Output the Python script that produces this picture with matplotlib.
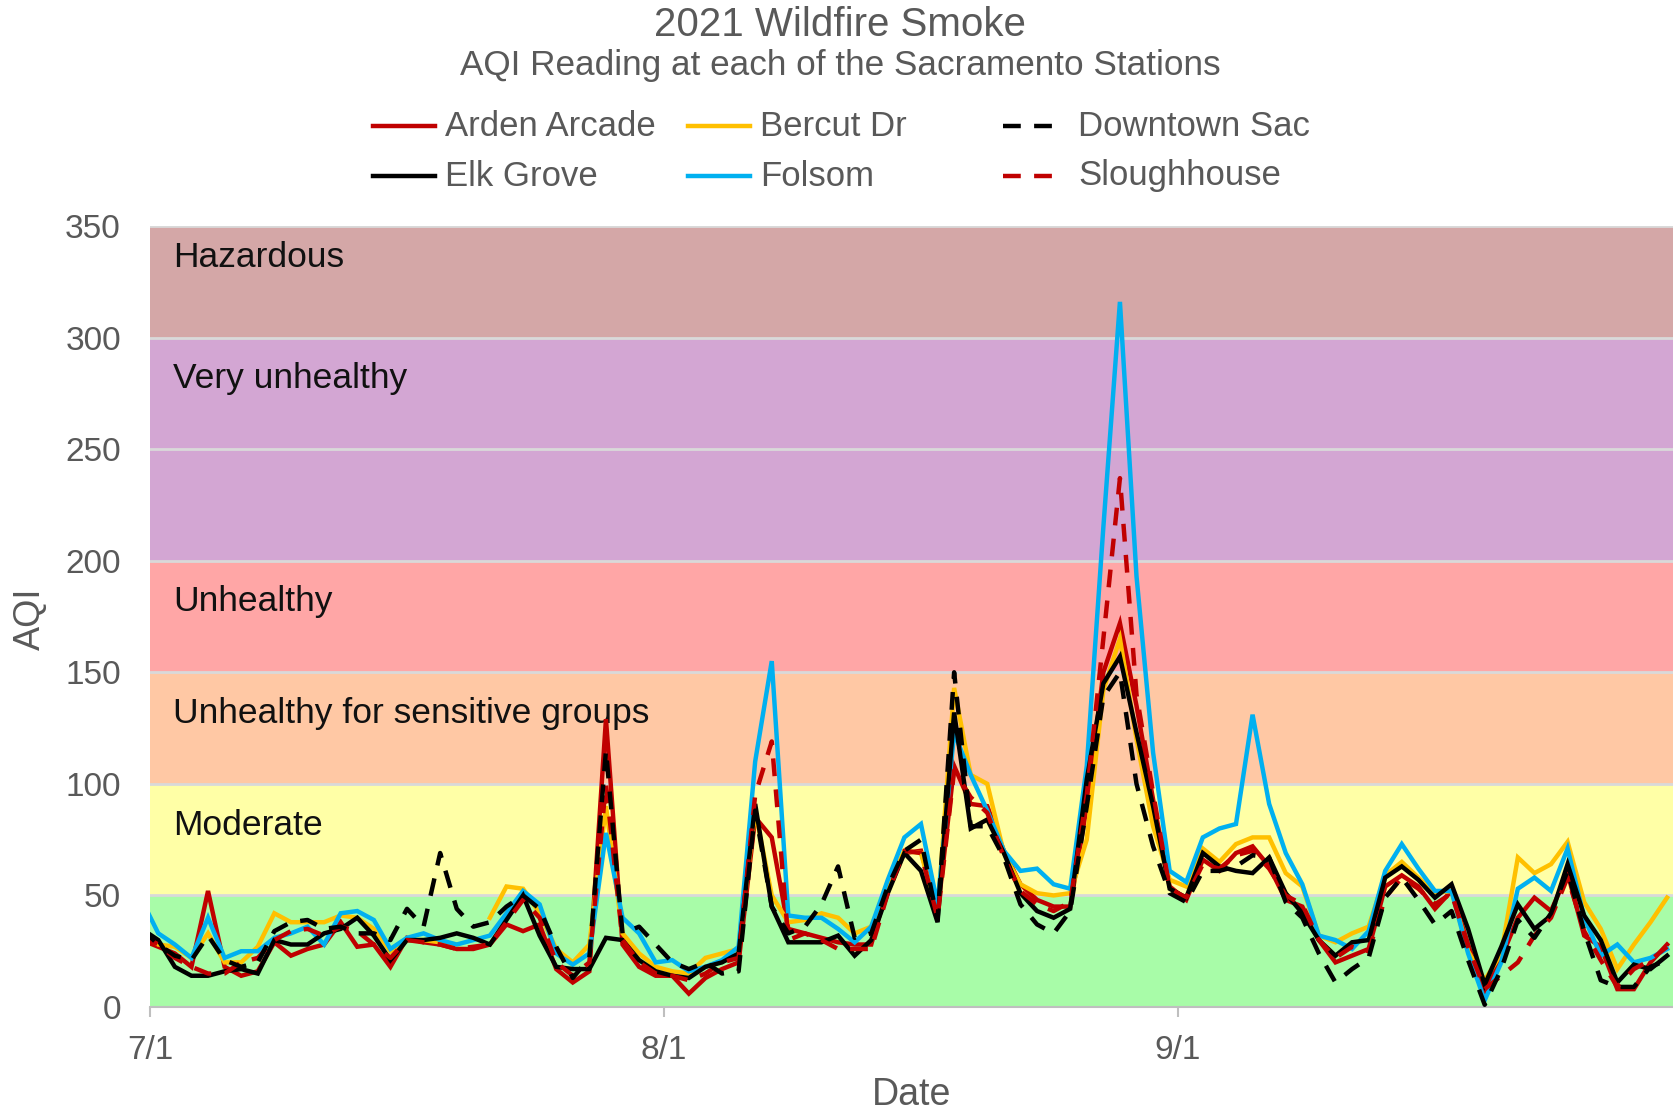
import numpy as np
import matplotlib
matplotlib.use("Agg")
import matplotlib.pyplot as plt
from matplotlib.lines import Line2D

plt.rcParams['font.family'] = ['Liberation Sans', 'DejaVu Sans']

# daily readings 6/30 .. 9/30 (first value is 6/30, mostly clipped at the left edge)
arden = [30, 27, 24, 18, 52, 18, 14, 16, 29, 23, 26, 28, 38, 27, 28, 18, 31, 29, 28, 26,
         26, 28, 37, 34, 37, 17, 11, 16, 129, 28, 18, 14, 14, 6, 13, 17, 20, 85, 76, 35,
         33, 31, 29, 28, 28, 54, 69, 70, 42, 108, 91, 90, 70, 55, 48, 45, 45, 90, 150, 172,
         135, 93, 54, 48, 66, 61, 69, 72, 63, 48, 45, 30, 20, 23, 26, 54, 59, 54, 44, 52,
         28, 6, 22, 40, 49, 43, 60, 32, 27, 8, 8, 20, 28]
bercut = [33, 28, 27, 22, 33, 20, 20, 27, 42, 38, 38, 38, 41, 40, 35, 25, 30, 30, 29, 28,
          np.nan, 40, 54, 53, 42, 26, 20, 28, 90, 33, 24, 18, 16, 15, 22, 24, 26, 88, 50, 38,
          39, 42, 40, 33, 36, 54, 70, 69, 42, 143, 104, 100, 69, 55, 51, 50, 51, 75, 142, 165,
          120, 81, 57, 54, 71, 65, 73, 76, 76, 60, 54, 32, 29, 33, 36, 59, 65, 58, 51, 52,
          25, 12, 24, 67, 60, 64, 74, 47, 35, 17, 28, 38, 49]
downtown = [35, 28, 23, 21, 32, 21, 18, 20, 34, 38, 39, 35, 36, 33, 33, 30, 44, 36, 69, 44,
            36, 38, 45, 50, 44, 27, 13, 22, 115, 33, 36, 28, 20, 17, 20, 15, 16, 88, 45, 33,
            36, 46, 63, 31, 33, 54, 70, 75, 39, 150, 81, 81, 67, 46, 37, 33, 43, 90, 139, 150,
            100, 72, 51, 47, 61, 61, 63, 68, 67, 47, 40, 24, 11, 17, 22, 49, 58, 48, 37, 43,
            21, 1, 17, 39, 31, 42, 61, 34, 12, 9, 9, 18, 21]
elk_grove = [35, 30, 18, 14, 14, 16, 17, 15, 30, 28, 28, 33, 35, 40, 32, 21, 30, 30, 31, 33,
             31, 28, 39, 50, 32, 18, 17, 17, 31, 30, 21, 16, 14, 13, 18, 20, 24, 91, 45, 29,
             29, 29, 32, 23, 30, 51, 69, 61, 38, 132, 80, 84, 69, 51, 43, 40, 44, 102, 145, 157,
             123, 90, 53, 49, 69, 63, 61, 60, 67, 51, 42, 30, 23, 29, 30, 58, 63, 57, 49, 55,
             35, 10, 27, 46, 35, 41, 64, 41, 30, 11, 19, 17, 23]
folsom = [48, 33, 28, 22, 40, 22, 25, 25, 31, 33, 36, 28, 42, 43, 39, 26, 31, 33, 30, 28,
          30, 32, 42, 52, 46, 24, 19, 24, 78, 40, 33, 20, 21, 16, 18, 21, 27, 110, 155, 41,
          40, 40, 35, 29, 36, 57, 76, 82, 46, 123, 104, 88, 70, 61, 62, 55, 53, 108, 215, 316,
          193, 114, 61, 56, 76, 80, 82, 131, 91, 69, 55, 32, 30, 26, 34, 61, 73, 62, 52, 52,
          24, 3, 20, 53, 58, 52, 71, 40, 23, 28, 20, 22, 26]
sloughhouse = [32, 28, 22, 18, 15, 15, 20, 22, 30, 34, 35, 32, 36, 34, 28, 22, 30, 29, 28, 26,
               27, 28, 38, 48, 40, 20, 14, 20, 100, 30, 20, 15, 14, 12, 15, 20, 22, 95, 119, 30,
               33, 30, 26, 26, 26, 51, 70, 69, 40, 106, 94, 87, 67, 52, 46, 43, 47, 95, 165, 237,
               140, 96, 53, 49, 64, 62, 68, 70, 62, 50, 46, 30, 22, 27, 25, 49, 58, 53, 46, 51,
               27, 8, 14, 20, 32, 40, 58, 34, 21, 9, 17, 21, 27]

# days since 7/1, readings sit at mid-day
days = np.arange(-1, 92) + 0.5
month_ticks = [0, 31, 62]
month_labels = ['7/1', '8/1', '9/1']

bands = [(0, 50, '#a8fca8', ''), (50, 100, '#ffffa6', 'Moderate'),
         (100, 150, '#ffc8a4', 'Unhealthy for sensitive groups'),
         (150, 200, '#ffa6a6', 'Unhealthy'), (200, 300, '#d3a6d3', 'Very unhealthy'),
         (300, 350, '#d4a7a7', 'Hazardous')]

fig = plt.figure(figsize=(16.73, 11.12), dpi=100)
ax = fig.add_axes([150 / 1673, 1 - 1007 / 1112, 1 - 150 / 1673, (1007 - 226) / 1112])

for lo, hi, col, name in bands:
    ax.axhspan(lo, hi, color=col, zorder=0, lw=0)
    if name:
        ly = 336 if hi == 350 else hi - 18.5
        ax.text(1.4, ly, name, fontsize=25.5, va='center', ha='left', color='#111111', zorder=1)
for yv in range(50, 351, 50):
    ax.axhline(yv, color='#d9d9d9', lw=2, zorder=0.5)

series = [
    (arden, 'Arden Arcade', '#c00000', '-'),
    (bercut, 'Bercut Dr', '#ffc000', '-'),
    (folsom, 'Folsom', '#00b0f0', '-'),
    (elk_grove, 'Elk Grove', 'black', '-'),
    (sloughhouse, 'Sloughhouse', '#c00000', (0, (4, 3))),
    (downtown, 'Downtown Sac', 'black', (0, (4, 3))),
]
for vals, name, col, ls in series:
    ax.plot(days, vals, color=col, ls=ls, lw=3.2, zorder=3, solid_joinstyle='miter')

ax.set_xlim(0, (1673 - 150) / 16.58)
ax.set_ylim(0, 350)
ax.set_yticks(range(0, 351, 50))
ax.set_xticks(month_ticks)
ax.set_xticklabels(month_labels)
for s in ['left', 'right', 'top']:
    ax.spines[s].set_visible(False)
ax.spines['bottom'].set_color('#bfbfbf')
ax.spines['bottom'].set_linewidth(1.5)
ax.tick_params(axis='y', length=0, pad=21, labelsize=24, labelcolor='#595959')
ax.tick_params(axis='x', length=7, width=1.5, color='#bfbfbf', pad=13, labelsize=24, labelcolor='#595959')

fig.text(912 / 1673, 1 - 1095 / 1112, 'Date', fontsize=27, color='#595959', ha='center', va='center')
fig.text(30 / 1673, 1 - 619 / 1112, 'AQI', fontsize=26, color='#595959', ha='center', va='center', rotation=90)

fig.text(0.502, 1 - 25 / 1112, '2021 Wildfire Smoke', fontsize=29, color='#595959', ha='center', va='center')
fig.text(0.502, 1 - 66 / 1112, 'AQI Reading at each of the Sacramento Stations', fontsize=25.3,
         color='#595959', ha='center', va='center')

# legend drawn by hand to follow the uneven column spacing
leg = [('Arden Arcade', '#c00000', '-', 373, 126), ('Bercut Dr', '#ffc000', '-', 688, 126),
       ('Downtown Sac', 'black', (0, (4, 3)), 1003, 126), ('Elk Grove', 'black', '-', 373, 176),
       ('Folsom', '#00b0f0', '-', 688, 176), ('Sloughhouse', '#c00000', (0, (4, 3)), 1003, 176)]
for name, col, ls, x0, y0 in leg:
    yf = 1 - y0 / 1112
    fig.add_artist(Line2D([x0 / 1673, (x0 + 62) / 1673], [yf, yf], color=col, ls=ls, lw=3.2,
                          transform=fig.transFigure))
    tx = x0 + 72 if ls == '-' else x0 + 75
    fig.text(tx / 1673, yf, name, fontsize=25, color='#595959', ha='left', va='center')

fig.savefig('out.png', dpi=100)
